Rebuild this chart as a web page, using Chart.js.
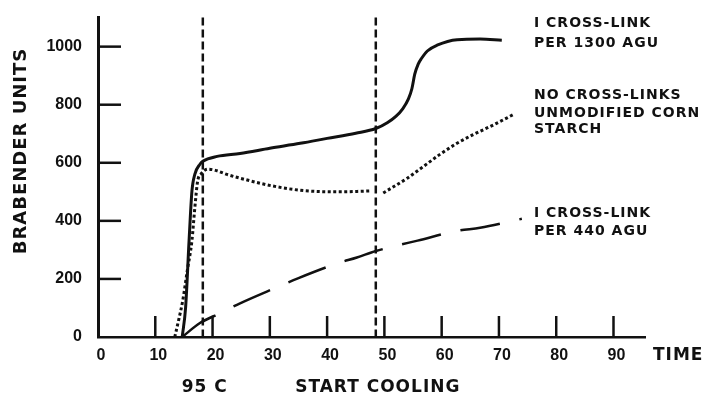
<!DOCTYPE html>
<html>
<head>
<meta charset="utf-8">
<script src="https://cdn.jsdelivr.net/npm/chart.js@4.4.1/dist/chart.umd.min.js"></script>
<style>
    html, body { margin: 0; padding: 0; background: #fff; }
    canvas { display: block; }
</style>
</head>
<body>
<canvas id="brabender-chart" width="703" height="396"></canvas>
<script>
// Time (min) / Brabender units
const solidTime = [14.7, 15.3, 15.9, 16.4, 16.9, 17.8, 18.3, 20.8, 24.8, 30, 35.3, 40, 45, 48.5, 50.5, 52, 53.2, 54.2, 54.8, 55.3, 55.9, 56.5, 57.5, 59.2, 62.7, 66.7, 70.5];
const solidBU   = [0, 103, 332, 502, 560, 595, 605, 622, 632, 650, 667, 684, 702, 718, 738, 760, 786, 820, 855, 905, 940, 960, 985, 1005, 1024, 1026, 1022];

const dottedTime = [13.4, 14.1, 14.8, 15.6, 16.4, 16.9, 17.4, 18.1, 19.2, 20.5, 22.5, 24.8, 30.5, 36, 42, 47.5, 48.6, 49.8, 54, 57, 59.7, 62.5, 65.5, 69, 72.5];
const dottedBU   = [0, 60, 126, 230, 332, 444, 537, 564, 578, 574, 560, 547, 520, 504, 500, 503, null, 496, 547, 590, 629, 665, 697, 730, 766];

const dashedTime = [14.7, 17.8, 21.3, 24.8, 31.2, 34.9, 41.7, 45.2, 48.5, 52.2, 55.8, 62.8, 66.7, 74];
const dashedBU   = [0, 48, 82, 116, 171, 202, 253, 274, 296, 315, 332, 366, 376, 407];

const xTickValues = [0, 10, 20, 30, 40, 50, 60, 70, 80, 90];
const yTickValues = [0, 200, 400, 600, 800, 1000];
const markerTimes = [18.3, 48.5];
const markerLabels = ["95 C", "START COOLING"];

const ink = "#111";

function toPoints(xs, ys) {
    return xs.map((x, i) => ({ x: x, y: ys[i] }));
}

// tick marks inside the axes, the two dashed markers and the free texts
const decorations = {
    id: "decorations",
    beforeDatasetsDraw(chart) {
        const ctx = chart.ctx;
        const area = chart.chartArea;
        const xs = chart.scales.x;
        ctx.save();
        ctx.strokeStyle = ink;
        ctx.lineWidth = 2.5;
        ctx.setLineDash([8, 4]);
        markerTimes.forEach(t => {
            const px = xs.getPixelForValue(t);
            ctx.beginPath();
            ctx.moveTo(px, area.top);
            ctx.lineTo(px, area.bottom);
            ctx.stroke();
        });
        ctx.restore();
    },
    afterDraw(chart) {
        const ctx = chart.ctx;
        const area = chart.chartArea;
        const xs = chart.scales.x;
        const ys = chart.scales.y;
        ctx.save();
        ctx.strokeStyle = ink;
        ctx.lineWidth = 2.5;
        xTickValues.slice(1).forEach(v => {
            const px = xs.getPixelForValue(v);
            ctx.beginPath();
            ctx.moveTo(px, area.bottom);
            ctx.lineTo(px, area.bottom - 21);
            ctx.stroke();
        });
        yTickValues.slice(1).forEach(v => {
            const py = ys.getPixelForValue(v);
            ctx.beginPath();
            ctx.moveTo(area.left, py);
            ctx.lineTo(area.left + 23, py);
            ctx.stroke();
        });

        ctx.fillStyle = ink;
        ctx.textBaseline = "middle";
        ctx.font = "bold 14px 'DejaVu Sans'";
        ctx.letterSpacing = "1px";
        ctx.textAlign = "left";
        const notes = [
            ["I CROSS-LINK", 23], ["PER 1300 AGU", 43],
            ["NO CROSS-LINKS", 95], ["UNMODIFIED CORN", 113], ["STARCH", 129],
            ["I CROSS-LINK", 213], ["PER 440 AGU", 231]
        ];
        notes.forEach(n => ctx.fillText(n[0], 534, n[1]));

        ctx.font = "bold 17px 'DejaVu Sans'";
        ctx.fillText("TIME", 653, 356);

        ctx.textAlign = "center";
        markerTimes.forEach((t, i) => {
            ctx.fillText(markerLabels[i], xs.getPixelForValue(t) + 2, 388);
        });

        ctx.font = "bold 18px 'DejaVu Sans'";
        ctx.translate(21, 151);
        ctx.rotate(-Math.PI / 2);
        ctx.fillText("BRABENDER UNITS", 0, 0);
        ctx.restore();
    }
};

const chart = new Chart(document.getElementById("brabender-chart"), {
    type: "line",
    data: {
        datasets: [
            {
                label: "I CROSS-LINK PER 1300 AGU",
                data: toPoints(solidTime, solidBU),
                borderColor: ink,
                borderWidth: 3,
                pointRadius: 0,
                cubicInterpolationMode: "monotone"
            },
            {
                label: "NO CROSS-LINKS UNMODIFIED CORN STARCH",
                data: toPoints(dottedTime, dottedBU),
                borderColor: ink,
                borderWidth: 3,
                borderDash: [3, 2.5],
                pointRadius: 0,
                spanGaps: false,
                cubicInterpolationMode: "monotone"
            },
            {
                label: "I CROSS-LINK PER 440 AGU",
                data: toPoints(dashedTime, dashedBU),
                borderColor: ink,
                borderWidth: 2.5,
                borderDash: [40, 20],
                pointRadius: 0,
                cubicInterpolationMode: "monotone"
            }
        ]
    },
    options: {
        responsive: false,
        animation: false,
        layout: { padding: { left: 0, top: 14, right: 58, bottom: 0 } },
        plugins: {
            legend: { display: false },
            tooltip: { enabled: false }
        },
        scales: {
            x: {
                type: "linear",
                min: 0,
                max: 95.5,
                afterBuildTicks: s => { s.ticks = xTickValues.map(v => ({ value: v })); },
                afterFit: s => { s.height = 59; },
                grid: { display: false },
                border: { display: true, color: ink, width: 2.5 },
                ticks: {
                    color: ink,
                    padding: 1,
                    labelOffset: 3,
                    maxRotation: 0,
                    callback: v => String(v),
                    font: { family: "'Liberation Sans'", size: 16, weight: "bold" }
                }
            },
            y: {
                min: 0,
                max: 1100,
                afterBuildTicks: s => { s.ticks = yTickValues.map(v => ({ value: v })); },
                afterFit: s => { s.width = 98; },
                grid: { display: false },
                border: { display: true, color: ink, width: 3 },
                ticks: {
                    color: ink,
                    padding: 8,
                    callback: v => String(v),
                    font: { family: "'Liberation Sans'", size: 16, weight: "bold" }
                }
            }
        }
    },
    plugins: [decorations]
});
</script>
</body>
</html>
